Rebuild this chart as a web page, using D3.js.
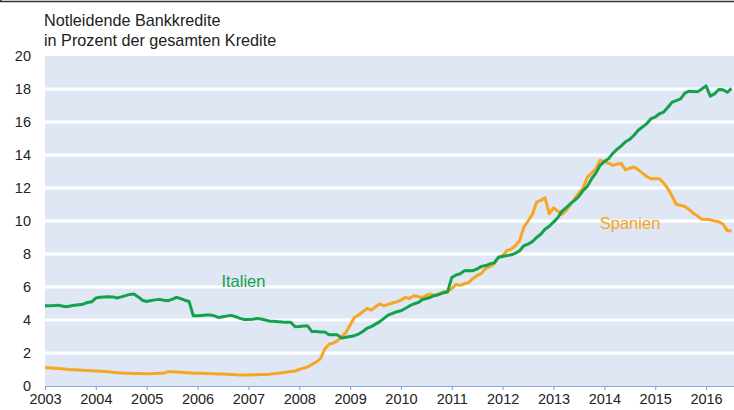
<!DOCTYPE html>
<html>
<head>
    <style>
        body { margin: 0; background: #ffffff; }
        text { font-family: "Liberation Sans", Arial, sans-serif; }
    </style>
    <script src="https://d3js.org/d3.v7.min.js"></script>
</head>
<body>
<div id="chart"></div>
<script>
    // monthly values, Jan 2003 .. Jul 2016
    var startYear = 2003;
    var italien = [
        4.86, 4.87, 4.88, 4.9, 4.85, 4.8, 4.85, 4.9, 4.93, 4.96, 5.06, 5.1,
        5.33, 5.38, 5.4, 5.41, 5.4, 5.33, 5.4, 5.48, 5.55, 5.57, 5.4, 5.2,
        5.12, 5.18, 5.22, 5.25, 5.2, 5.17, 5.25, 5.37, 5.3, 5.2, 5.12, 4.26,
        4.26, 4.28, 4.3, 4.3, 4.25, 4.15, 4.2, 4.25, 4.28, 4.2, 4.1, 4.03,
        4.03, 4.05, 4.09, 4.06, 4.0, 3.93, 3.92, 3.9, 3.88, 3.87, 3.87, 3.59,
        3.6, 3.63, 3.63, 3.3, 3.3, 3.28, 3.28, 3.1, 3.1, 3.1, 2.9, 2.95,
        3.0, 3.05, 3.15, 3.3, 3.5, 3.6, 3.75, 3.9, 4.1, 4.3, 4.4, 4.5,
        4.56, 4.7, 4.85, 4.97, 5.05, 5.23, 5.3, 5.38, 5.49, 5.55, 5.65, 5.7,
        6.58, 6.73, 6.8, 6.99, 7.0, 6.99, 7.1, 7.25, 7.3, 7.4, 7.46, 7.8,
        7.85, 7.9, 7.95, 8.04, 8.2, 8.5, 8.6, 8.75, 9.0, 9.2, 9.5, 9.68,
        9.93, 10.2, 10.6, 10.8, 11.05, 11.25, 11.5, 11.85, 12.1, 12.56, 12.9, 13.37,
        13.6, 13.78, 14.1, 14.35, 14.55, 14.8, 14.95, 15.2, 15.5, 15.7, 15.9, 16.2,
        16.3, 16.5, 16.6, 16.9, 17.2, 17.3, 17.4, 17.75, 17.87, 17.85, 17.83, 18.0,
        18.19, 17.57, 17.7, 17.97, 17.95, 17.8, 18.04
    ];
    var spanien = [
        1.11, 1.1, 1.08, 1.06, 1.04, 1.02, 0.99, 0.98, 0.97, 0.95, 0.94, 0.92,
        0.91, 0.9, 0.88, 0.86, 0.83, 0.81, 0.79, 0.78, 0.77, 0.76, 0.76, 0.75,
        0.75, 0.75, 0.76, 0.77, 0.77, 0.87, 0.86, 0.85, 0.83, 0.81, 0.8, 0.78,
        0.78, 0.77, 0.76, 0.75, 0.74, 0.73, 0.72, 0.71, 0.7, 0.68, 0.67, 0.66,
        0.67, 0.68, 0.68, 0.69, 0.7, 0.71, 0.74, 0.77, 0.8, 0.84, 0.88, 0.91,
        1.0, 1.08, 1.15, 1.3, 1.45, 1.66, 2.23, 2.53, 2.6, 2.74, 3.0, 3.24,
        3.7, 4.15, 4.3, 4.5, 4.7, 4.6, 4.8, 4.97, 4.87, 4.95, 5.03, 5.1,
        5.2, 5.37, 5.3, 5.47, 5.43, 5.35, 5.5, 5.57, 5.47, 5.6, 5.71, 5.73,
        5.9, 6.16, 6.1, 6.2, 6.28, 6.52, 6.7, 6.83, 7.13, 7.25, 7.4, 7.8,
        7.9, 8.2, 8.3, 8.5, 8.8, 9.62, 10.0, 10.4, 11.14, 11.25, 11.4, 10.44,
        10.8, 10.6, 10.4, 10.64, 11.0, 11.35, 11.7, 12.0, 12.66, 12.9, 13.17, 13.68,
        13.6, 13.5, 13.37, 13.45, 13.48, 13.1, 13.2, 13.27, 13.1, 12.9, 12.7, 12.56,
        12.56, 12.56, 12.3, 11.96, 11.5, 11.0, 10.95, 10.88, 10.7, 10.47, 10.3, 10.1,
        10.1, 10.07, 10.0, 9.95, 9.82, 9.42, 9.4
    ];
    var yearTicks = [2003, 2004, 2005, 2006, 2007, 2008, 2009, 2010, 2011, 2012, 2013, 2014, 2015, 2016];
    var yTicks = [0, 2, 4, 6, 8, 10, 12, 14, 16, 18, 20];
    var titleLines = ["Notleidende Bankkredite", "in Prozent der gesamten Kredite"];

    var W = 734, H = 410;
    var margin = { top: 56, right: 0, bottom: 24, left: 45 };
    var width = W - margin.left - margin.right;
    var height = H - margin.top - margin.bottom;

    var svg = d3.select("#chart").append("svg")
        .attr("width", W)
        .attr("height", H);

    // frame edge cut at the top
    svg.append("line")
        .attr("x1", 0).attr("x2", W).attr("y1", 1.5).attr("y2", 1.5)
        .attr("stroke", "#333").attr("stroke-width", 1.5);
    svg.append("line")
        .attr("x1", 0.75).attr("x2", 0.75).attr("y1", 0).attr("y2", 2)
        .attr("stroke", "#333").attr("stroke-width", 1.5);

    svg.selectAll(".title")
        .data(titleLines)
        .enter().append("text")
        .attr("class", "title")
        .attr("x", 44)
        .attr("y", function(d, i) { return 26 + i * 20; })
        .style("font-size", "16.2px")
        .style("fill", "#222")
        .text(function(d) { return d; });

    var g = svg.append("g")
        .attr("transform", "translate(" + margin.left + "," + margin.top + ")");

    var x = d3.scaleLinear()
        .domain([2003, 2003 + width / 50.85])
        .range([0, width]);

    var y = d3.scaleLinear()
        .domain([0, 20])
        .range([height, 0]);

    g.append("rect")
        .attr("x", 0).attr("y", 0)
        .attr("width", width).attr("height", height)
        .attr("fill", "#dfe6f4");

    g.selectAll(".grid")
        .data(yTicks.filter(function(d) { return d > 0 && d < 20; }))
        .enter().append("line")
        .attr("class", "grid")
        .attr("x1", 0).attr("x2", width)
        .attr("y1", function(d) { return y(d); })
        .attr("y2", function(d) { return y(d); })
        .attr("stroke", "#ffffff")
        .attr("stroke-width", 3);

    // y axis labels only
    var yAxis = g.append("g")
        .call(d3.axisLeft(y).tickValues(yTicks).tickSize(0).tickPadding(14).tickFormat(d3.format("d")));
    yAxis.select(".domain").remove();
    yAxis.selectAll("text")
        .style("font-family", "'Liberation Sans', Arial, sans-serif")
        .style("font-size", "14.5px")
        .style("fill", "#222");

    var xAxis = g.append("g")
        .attr("transform", "translate(0," + height + ")")
        .call(d3.axisBottom(x).tickValues(yearTicks).tickSize(4).tickPadding(4).tickFormat(d3.format("d")));
    xAxis.select(".domain")
        .attr("stroke", "#8aa8dc")
        .attr("stroke-width", 1.2)
        .attr("d", "M0,0.5H" + width);
    xAxis.selectAll(".tick line").attr("stroke", "#8aa8dc").attr("stroke-width", 1.2);
    xAxis.selectAll("text")
        .style("font-family", "'Liberation Sans', Arial, sans-serif")
        .style("font-size", "14.5px")
        .style("fill", "#222");

    var line = d3.line()
        .x(function(d, i) { return x(startYear + i / 12); })
        .y(function(d) { return y(d); });

    g.append("path")
        .datum(spanien)
        .attr("fill", "none")
        .attr("stroke", "#f6a623")
        .attr("stroke-width", 3)
        .attr("stroke-linejoin", "round")
        .attr("d", line);

    g.append("path")
        .datum(italien)
        .attr("fill", "none")
        .attr("stroke", "#13a24b")
        .attr("stroke-width", 3)
        .attr("stroke-linejoin", "round")
        .attr("d", line);

    g.append("text")
        .attr("x", x(2006.47))
        .attr("y", y(6.0))
        .style("font-size", "16.5px")
        .style("fill", "#13a24b")
        .text("Italien");

    g.append("text")
        .attr("x", x(2013.91))
        .attr("y", y(9.5))
        .style("font-size", "16.5px")
        .style("fill", "#f6a623")
        .text("Spanien");
</script>
</body>
</html>
